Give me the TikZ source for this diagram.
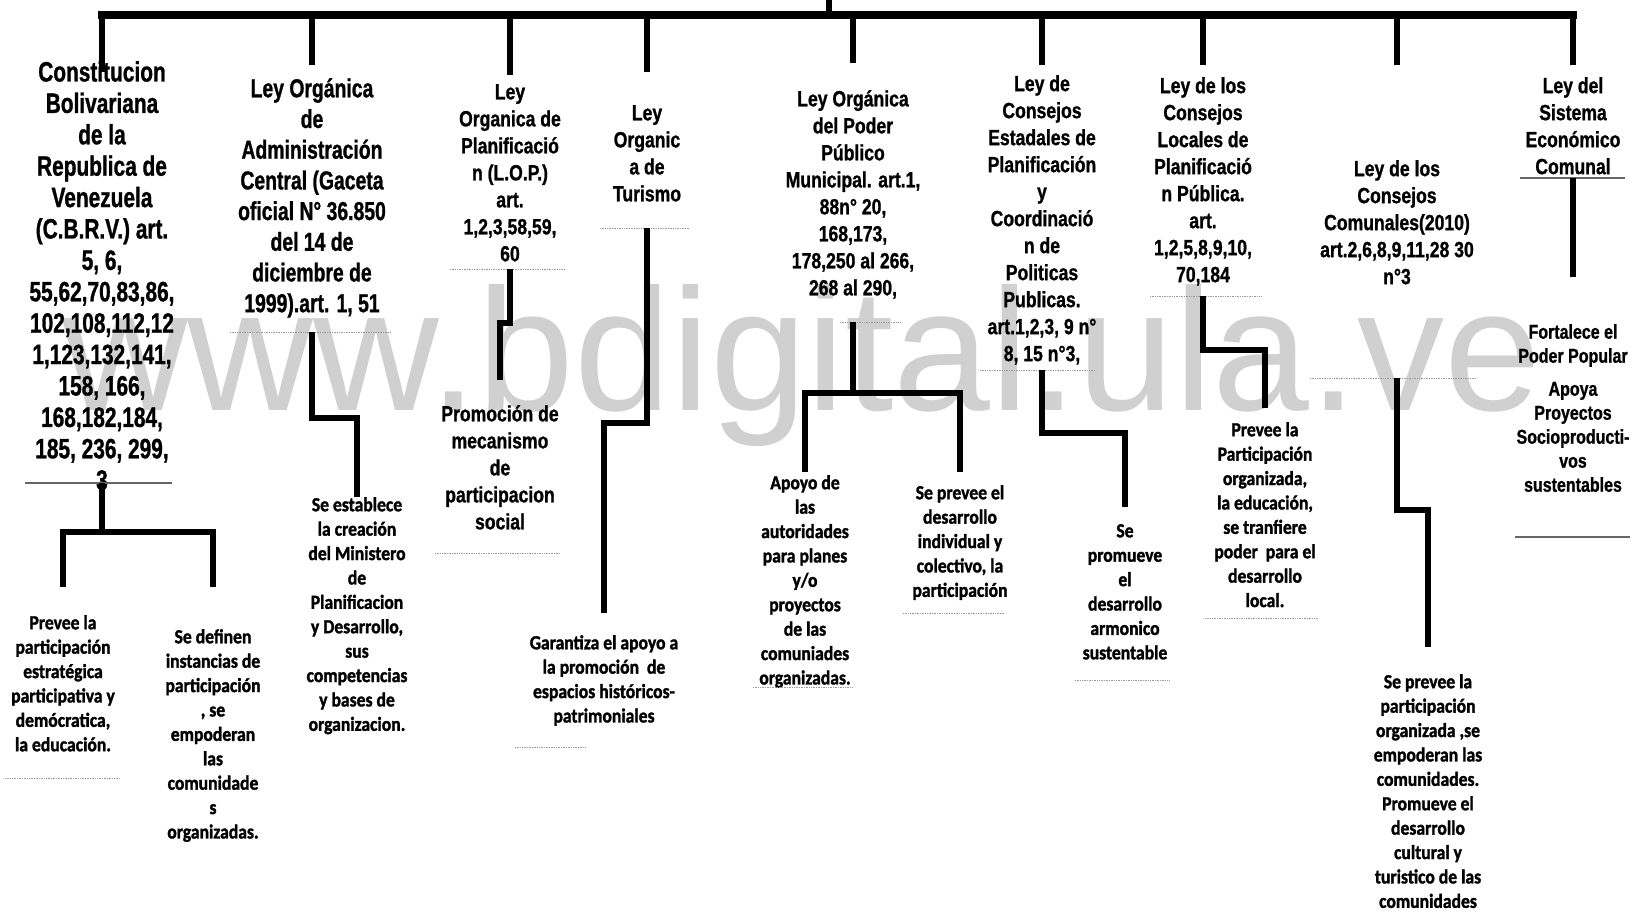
\documentclass[tikz,border=0pt]{standalone}
\usepackage{fontspec}
\setmainfont{Liberation Sans}
\newfontfamily\lawfont{Liberation Sans}[FakeStretch=0.8, FakeBold=1]
\newfontfamily\bigfont{Liberation Sans}[FakeStretch=0.745, FakeBold=1]
\newfontfamily\efffont{Carlito}[FakeStretch=0.88, FakeBold=1.5]
\newfontfamily\wmfont{Liberation Sans}
\usetikzlibrary{calc}
\definecolor{ink}{HTML}{000000}
\definecolor{wmgray}{HTML}{D0D0D0}
\definecolor{faint}{HTML}{9A9A9A}

\begin{document}
\begin{tikzpicture}[
  x=1pt, y=-1pt,
  every node/.style={inner sep=0pt, align=center, text=ink},
  lawbig/.style={anchor=north, font=\bigfont\bfseries\fontsize{28}{31.4}\selectfont},
  law/.style={anchor=north, font=\lawfont\bfseries\fontsize{22}{27}\selectfont},
  lawsm/.style={anchor=north, font=\lawfont\bfseries\fontsize{20}{24}\selectfont},
  eff/.style={anchor=north, font=\efffont\bfseries\fontsize{20}{24.4}\selectfont},
  wmark/.style={anchor=base west, text=wmgray, font=\wmfont\fontsize{174}{174}\selectfont},
  conn/.style={draw=ink, line width=5.5pt},
  trunk/.style={draw=ink, line width=8.5pt, line cap=rect},
  rule/.style={draw=faint, line width=0.7pt, densely dotted},
  rulesolid/.style={draw=ink!60, line width=1.2pt},
]
\useasboundingbox[fill=white] (0,0) rectangle (1634,911);
\node[wmark] (wm) at (62,410) {www.bdigital.ula.ve};

% leyes
\node[lawbig] (cbrv) at (102,61) {Constitucion\\Bolivariana\\de la\\Republica de\\Venezuela\\(C.B.R.V.) art.\\5, 6,\\55,62,70,83,86,\\102,108,112,12\\1,123,132,141,\\158, 166,\\168,182,184,\\185, 236, 299,\\3};
\node[lawbig, font=\bigfont\bfseries\fontsize{26}{30.7}\selectfont] (loac) at (312,78) {Ley Orgánica\\de\\Administración\\Central (Gaceta\\oficial N° 36.850\\del 14 de\\diciembre de\\1999).art. 1, 51};
\node[law] (lop) at (510,84) {Ley\\Organica de\\Planificació\\n (L.O.P.)\\art.\\1,2,3,58,59,\\60};
\node[law] (ltur) at (647,105) {Ley\\Organic\\a de\\Turismo};
\node[law] (lopm) at (853,90) {Ley Orgánica\\del Poder\\Público\\Municipal. art.1,\\88n° 20,\\168,173,\\178,250 al 266,\\268 al 290,};
\node[law] (lcep) at (1042,75) {Ley de\\Consejos\\Estadales de\\Planificación\\y\\Coordinació\\n de\\Politicas\\Publicas.\\art.1,2,3, 9 n°\\8, 15 n°3,};
\node[law] (lclp) at (1203,77) {Ley de los\\Consejos\\Locales de\\Planificació\\n Pública.\\art.\\1,2,5,8,9,10,\\70,184};
\node[law] (lcc) at (1397,160) {Ley de los\\Consejos\\Comunales(2010)\\art.2,6,8,9,11,28 30\\n°3};
\node[law] (lsec) at (1573,77) {Ley del\\Sistema\\Económico\\Comunal};

% efectos
\node[eff] (prevee) at (63,615) {Prevee la\\participación\\estratégica\\participativa y\\demócratica,\\la educación.};
\node[eff] (definen) at (213,629) {Se definen\\instancias de\\participación\\, se\\empoderan\\las\\comunidade\\s\\organizadas.};
\node[eff] (estab) at (357,497) {Se establece\\la creación\\del Ministero\\de\\Planificacion\\y Desarrollo,\\sus\\competencias\\y bases de\\organizacion.};
\node[law] (promo) at (500,405) {Promoción de\\mecanismo\\de\\participacion\\social};
\node[eff] (garant) at (604,635) {Garantiza el apoyo a\\la promoción~~de\\espacios históricos-\\patrimoniales};
\node[eff] (apoyo) at (805,475) {Apoyo de\\las\\autoridades\\para planes\\y/o\\proyectos\\de las\\comuniades\\organizadas.};
\node[eff] (desind) at (960,485) {Se prevee el\\desarrollo\\individual y\\colectivo, la\\participación};
\node[eff] (armon) at (1125,524) {Se\\promueve\\el\\desarrollo\\armonico\\sustentable};
\node[eff] (local) at (1265,422) {Prevee la\\Participación\\organizada,\\la educación,\\se tranfiere\\poder~~para el\\desarrollo\\local.};
\node[eff] (comun) at (1428,674) {Se prevee la\\participación\\organizada ,se\\empoderan las\\comunidades.\\Promueve el\\desarrollo\\cultural y\\turistico de las\\comunidades};
\node[lawsm] (fortal) at (1573,324) {Fortalece el\\Poder Popular\\[9pt]Apoya\\Proyectos\\Socioproducti-\\vos\\sustentables};

% barra superior
\coordinate (root) at (829,0);
\coordinate (bar) at (829,15);
\draw[conn] (root) -- (bar);
\draw[trunk] (cbrv.north |- bar) -- (lsec.north |- bar);
\foreach \n/\g in {cbrv/-11, loac/13, lop/9, ltur/33, lopm/27, lcep/10, lclp/12, lcc/95, lsec/12}
  \draw[conn] (\n.north |- bar) -- ([yshift=\g pt]\n.north);

% lineas bajo los textos
\draw[rulesolid] (25,483) -- (172,483);
\draw[rulesolid] (1520,178) -- (1625,178);
\draw[rulesolid] (1515,537) -- (1630,537);
\foreach \a/\b/\y in {230/390/332, 450/565/269, 600/690/228, 840/900/322, 980/1095/370,
    1150/1262/296, 1310/1475/378, 5/120/778, 435/560/553, 515/585/747, 753/853/687,
    903/1005/613, 1075/1170/680, 1205/1318/618}
  \draw[rule] (\a,\y) -- (\b,\y);

% conectores
\coordinate (cbrvR) at (102,483);
\coordinate (loacR) at (312,332);
\coordinate (lopR) at (510,269);
\coordinate (lturR) at (647,228);
\coordinate (lopmR) at (853,322);
\coordinate (lcepR) at (1042,370);
\coordinate (lclpR) at (1203,296);
\coordinate (lccR) at (1397,378);
\coordinate (lsecR) at (1573,178);

\draw[conn] (cbrvR) -- ++(0,49) coordinate (cbrvF);
\draw[conn] ([yshift=28pt]prevee.north) |- (cbrvF) -| ([yshift=42pt]definen.north);
\draw[conn] (loacR) -- ++(0,86) -| (estab.north);
\draw[conn] (lopR) -- ++(0,54) -| ([yshift=25pt]promo.north);
\draw[conn] (lturR) -- ++(0,195) -| ([yshift=22pt]garant.north);
\draw[conn] (lopmR) -- ++(0,71) coordinate (lopmF);
\draw[conn] ([yshift=3pt]apoyo.north) |- (lopmF) -| ([yshift=13pt]desind.north);
\draw[conn] (lcepR) -- ++(0,63) -| ([yshift=17pt]armon.north);
\draw[conn] (lclpR) -- ++(0,54) -| ([yshift=14pt]local.north);
\draw[conn] (lccR) -- ++(0,132) -| ([yshift=27pt]comun.north);
\draw[conn] (lsecR) -- ([yshift=47pt]fortal.north);
\end{tikzpicture}
\end{document}
